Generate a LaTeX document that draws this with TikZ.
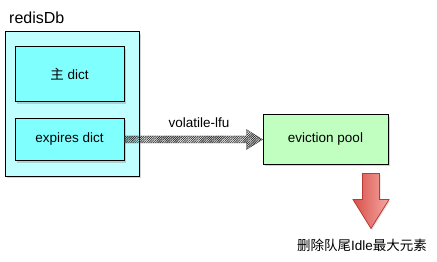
\documentclass[tikz,border=0pt]{standalone}
\usepackage{fontspec}
\setmainfont{Liberation Sans}
\newfontfamily\cjk{Noto Sans CJK SC}
\usetikzlibrary{calc,shadows,patterns.meta}
\definecolor{outerfill}{HTML}{C0FFFF}
\definecolor{innerfill}{HTML}{80FFFF}
\definecolor{poolfill}{HTML}{C0FFC0}
\definecolor{redl}{HTML}{D9504A}
\definecolor{redr}{HTML}{F5A8A2}
\definecolor{redb}{HTML}{B83A36}
\tikzset{
  box/.style={draw=black, line width=1pt, inner sep=0pt, font=\fontsize{13.5}{15}\selectfont,
    drop shadow={shadow xshift=1.5pt, shadow yshift=-2pt, opacity=0.35}},
  lbl/.style={inner sep=0pt, font=\fontsize{13.5}{15}\selectfont},
  hatcharrow/.style={pattern={Lines[angle=45,distance=1.6pt,line width=0.8pt]}, pattern color=gray!35!black, draw=gray!50!black, line width=0.3pt},
  redarrow/.style={left color=redl, right color=redr, draw=redb, line width=0.8pt,
    drop shadow={shadow xshift=1pt, shadow yshift=-1.5pt, opacity=0.25}}
}
\begin{document}
\begin{tikzpicture}[x=1pt,y=-1pt]
\useasboundingbox (0,0) rectangle (437,262);
\node[lbl, anchor=west, font=\fontsize{16}{18}\selectfont] (title) at (9,18) {redisDb};
\node[box, fill=outerfill, minimum width=134pt, minimum height=144pt] (outer) at (72,104) {};
\node[box, fill=innerfill, minimum width=109pt, minimum height=55pt] (main) at (69.5,74.5) {{\cjk 主} dict};
\node[box, fill=innerfill, minimum width=109pt, minimum height=42pt] (exp) at (69.5,139.5) {expires dict};
\node[box, fill=poolfill, minimum width=125pt, minimum height=49pt] (pool) at (325.5,139.5) {eviction pool};
\node[lbl] (vlfu) at (199,123) {volatile-lfu};
\path[hatcharrow] ($(exp.east)+(0,-3.5)$) -- ($(pool.west)+(-16,-3.5)$) -- ($(pool.west)+(-16,-10)$) -- (pool.west)
  -- ($(pool.west)+(-16,10)$) -- ($(pool.west)+(-16,3.5)$) -- ($(exp.east)+(0,3.5)$) -- cycle;
\coordinate (rtop) at ($(pool.south east)+(-17.5,9)$);
\path[redarrow] ($(rtop)+(-8.5,0)$) -- ($(rtop)+(8.5,0)$) -- ($(rtop)+(8.5,26)$) -- ($(rtop)+(18,26)$)
  -- ($(rtop)+(0,55)$) -- ($(rtop)+(-18,26)$) -- ($(rtop)+(-8.5,26)$) -- cycle;
\node[lbl] (del) at (362,245) {{\cjk 删除队尾}Idle{\cjk 最大元素}};
\end{tikzpicture}
\end{document}
